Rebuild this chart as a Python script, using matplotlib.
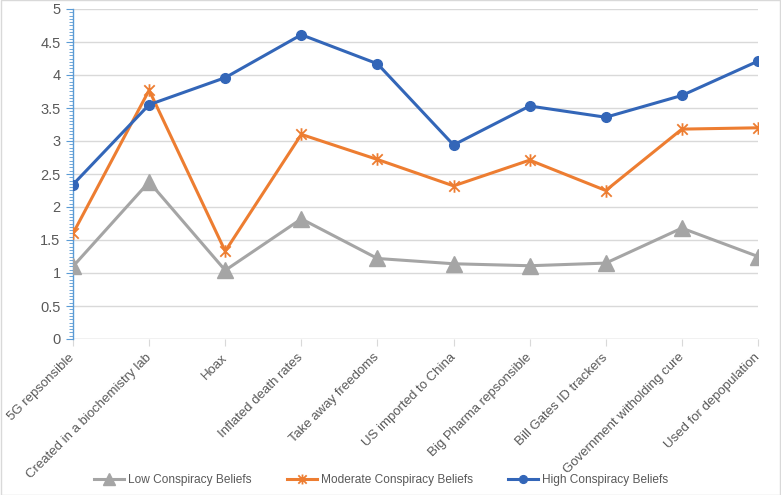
import matplotlib
matplotlib.use("Agg")
import matplotlib.pyplot as plt
from matplotlib.ticker import MultipleLocator
from matplotlib.path import Path

plt.rcParams["font.family"] = ["Liberation Sans", "DejaVu Sans"]

categories = ["5G repsonsible", "Created in a biochemistry lab", "Hoax", "Inflated death rates",
              "Take away freedoms", "US imported to China", "Big Pharma repsonsible",
              "Bill Gates ID trackers", "Government witholding cure", "Used for depopulation"]
low = [1.10, 2.38, 1.04, 1.82, 1.22, 1.14, 1.11, 1.15, 1.68, 1.25]
moderate = [1.60, 3.77, 1.33, 3.10, 2.72, 2.32, 2.71, 2.25, 3.18, 3.20]
high = [2.34, 3.55, 3.96, 4.61, 4.17, 2.94, 3.53, 3.36, 3.69, 4.21]

star = Path([(-1, -1), (1, 1), (-1, 1), (1, -1), (0, -1.2), (0, 1.2)],
            [Path.MOVETO, Path.LINETO, Path.MOVETO, Path.LINETO, Path.MOVETO, Path.LINETO])

fig = plt.figure(figsize=(7.81, 4.95), dpi=100)
W, H = 781, 495
ax = fig.add_axes([73 / W, 1 - 339 / H, (758 - 73) / W, (339 - 9) / H])
x = list(range(len(categories)))

ax.plot(x, low, color="#A5A5A5", lw=2.2, marker="^", ms=11, label="Low Conspiracy Beliefs", zorder=3)
ax.plot(x, moderate, color="#ED7D31", lw=2.2, marker=star, ms=9, mew=1.3, mfc="none",
        label="Moderate Conspiracy Beliefs", zorder=4)
ax.plot(x, high, color="#3366B8", lw=2.2, marker="o", ms=7, label="High Conspiracy Beliefs", zorder=5)

ax.set_xlim(0, 9)
ax.set_ylim(0, 5)
ax.yaxis.set_major_locator(MultipleLocator(0.5))
ax.yaxis.set_minor_locator(MultipleLocator(0.05))
ax.yaxis.set_major_formatter(plt.FuncFormatter(lambda v, p: "%g" % v))
ax.grid(axis="y", color="#D9D9D9", lw=1)
ax.set_axisbelow(True)
for s in ["top", "right", "bottom"]:
    ax.spines[s].set_visible(False)
ax.spines["left"].set_color("#5B9BD5")
ax.spines["left"].set_linewidth(1)
ax.tick_params(axis="y", which="major", length=5, color="#5B9BD5", labelsize=10.5, labelcolor="#595959", pad=4)
ax.tick_params(axis="y", which="minor", length=3, color="#5B9BD5")
ax.set_xticks(x)
ax.set_xticklabels(categories, rotation=45, ha="right", va="center", rotation_mode="anchor",
                   fontsize=9.5, color="#595959")
ax.tick_params(axis="x", length=5, color="#D9D9D9", pad=7)
ax.axhline(0, color="#D9D9D9", lw=1, zorder=1)

fig.legend(loc="lower center", ncol=3, frameon=False, fontsize=8.6, bbox_to_anchor=(0.488, -0.003),
           handlelength=2.5, handletextpad=0.3, columnspacing=3.0, labelcolor="#595959", markerscale=0.8)

fig.patches.append(plt.Rectangle((0.001, 0.001), 0.998, 0.998, transform=fig.transFigure,
                                 fill=False, edgecolor="#D9D9D9", lw=1))
fig.savefig("out.png", dpi=100)
